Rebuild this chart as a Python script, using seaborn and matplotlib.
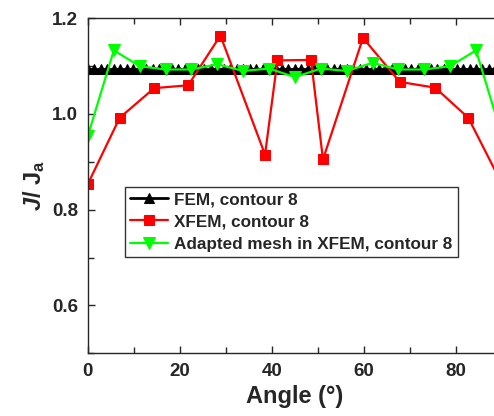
import numpy as np
import matplotlib
matplotlib.use("Agg")
import matplotlib.pyplot as plt
from matplotlib.ticker import MultipleLocator
import seaborn as sns

# FEM, contour 8 (dense, flat)
fem_angle = np.linspace(0, 90, 65)
fem_j = [1.095] * len(fem_angle)

# XFEM, contour 8
xfem_angle = [0, 6.9, 14.4, 21.8, 28.8, 38.5, 41.2, 48.5, 51.1, 59.8, 67.8, 75.5, 82.7, 90]
xfem_j = [0.854, 0.992, 1.054, 1.060, 1.164, 0.915, 1.112, 1.113, 0.905, 1.159, 1.067, 1.055, 0.992, 0.854]

# Adapted mesh in XFEM, contour 8
adapt_angle = [0, 5.625, 11.25, 16.875, 22.5, 28.125, 33.75, 39.375, 45, 50.625,
               56.25, 61.875, 67.5, 73.125, 78.75, 84.375, 90]
adapt_j = [0.955, 1.133, 1.100, 1.093, 1.093, 1.104, 1.090, 1.095, 1.077, 1.095,
           1.090, 1.107, 1.093, 1.093, 1.100, 1.133, 0.955]

sns.set_style("ticks")
plt.rcParams['font.family'] = ['Liberation Sans', 'DejaVu Sans']
plt.rcParams['font.weight'] = 'bold'
plt.rcParams['mathtext.fontset'] = 'custom'
plt.rcParams['mathtext.rm'] = 'Liberation Sans:bold'
plt.rcParams['mathtext.bf'] = 'Liberation Sans:bold'
plt.rcParams['mathtext.it'] = 'Liberation Sans:bold:italic'

fig = plt.figure(figsize=(4.94, 4.16), dpi=100)
ax = fig.add_axes([0.178, 0.151, 0.838, 0.805])

sns.lineplot(x=fem_angle, y=fem_j, ax=ax, color="black", marker="^", markersize=7,
             markeredgecolor="black", linewidth=2, label="FEM, contour 8")
sns.lineplot(x=xfem_angle, y=xfem_j, ax=ax, color="#ff0000", marker="s", markersize=6.5,
             markeredgecolor="#ff0000", linewidth=1.6, label="XFEM, contour 8")
sns.lineplot(x=adapt_angle, y=adapt_j, ax=ax, color="#00ff00", marker="v", markersize=8,
             markeredgecolor="#00ff00", linewidth=1.6, label="Adapted mesh in XFEM, contour 8")

ax.set_xlim(0, 90)
ax.set_ylim(0.5, 1.2)
ax.xaxis.set_major_locator(MultipleLocator(20))
ax.xaxis.set_minor_locator(MultipleLocator(10))
ax.yaxis.set_major_locator(MultipleLocator(0.2))
ax.yaxis.set_minor_locator(MultipleLocator(0.1))
ax.tick_params(which="both", direction="in", top=True, right=True, width=1, labelsize=13.5)
ax.tick_params(which="major", length=5, pad=7)
ax.tick_params(which="minor", length=4)
for lab in ax.get_xticklabels() + ax.get_yticklabels():
    lab.set_fontweight("bold")
for sp in ax.spines.values():
    sp.set_linewidth(1)

ax.set_xlabel("Angle (°)", fontsize=17, fontweight="bold", labelpad=4)
ax.set_ylabel(r"$\it{J}$/ J$_{\rm a}$", fontsize=17, fontweight="bold", labelpad=4)

leg = ax.legend(loc="upper left", bbox_to_anchor=(0.089, 0.496), borderaxespad=0,
                frameon=True, fancybox=False, edgecolor="black", fontsize=12.3,
                handlelength=2.25, labelspacing=0.42, borderpad=0.3, handletextpad=0.35)
leg.get_frame().set_linewidth(1)
for t in leg.get_texts():
    t.set_fontweight("bold")

fig.savefig("out.png", dpi=100)
